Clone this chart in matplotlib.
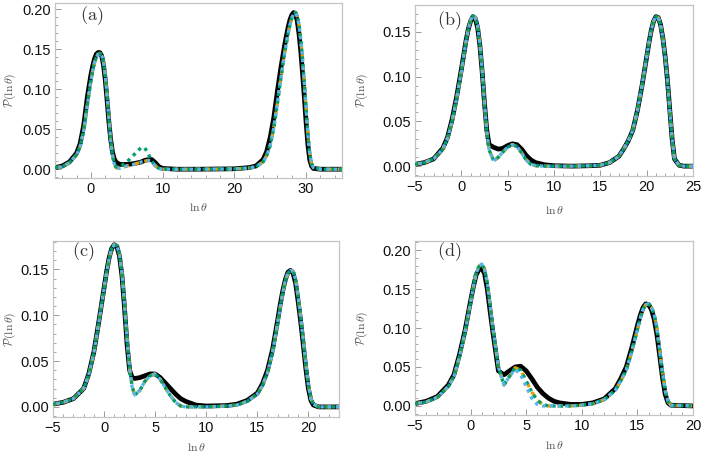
import matplotlib
matplotlib.use("Agg")
import matplotlib.pyplot as plt
from matplotlib.ticker import MultipleLocator, FormatStrFormatter, FuncFormatter

plt.rcParams['mathtext.fontset'] = 'cm'

# ---------------- Panel (a) ----------------
xa = [-5, -4, -3, -2, -1.5, -1, -0.5, -0.25, 0, 0.25,
      0.5, 0.75, 1, 1.25, 1.5, 1.75, 2, 2.25, 2.5, 2.75,
      3, 3.25, 3.5, 4, 5, 6, 7, 7.5, 8, 8.5,
      9, 9.5, 10, 12, 15, 20, 22, 23, 24, 24.5,
      25, 25.5, 26, 26.5, 27, 27.25, 27.5, 27.75, 28, 28.25,
      28.5, 28.75, 29, 29.25, 29.5, 29.75, 30, 30.25, 30.5, 30.75,
      31, 32, 35]
a_black = [0.002, 0.004, 0.009, 0.020, 0.032, 0.055, 0.090, 0.104, 0.118, 0.129,
           0.138, 0.144, 0.146, 0.146, 0.142, 0.131, 0.112, 0.087, 0.060, 0.038,
           0.022, 0.013, 0.009, 0.006, 0.006, 0.007, 0.009, 0.011, 0.012, 0.012,
           0.008, 0.003, 0.001, 0.0, 0.0, 0.0005, 0.002, 0.004, 0.012, 0.022,
           0.040, 0.065, 0.098, 0.128, 0.155, 0.167, 0.178, 0.187, 0.193, 0.196,
           0.195, 0.186, 0.170, 0.148, 0.120, 0.090, 0.058, 0.030, 0.012, 0.004,
           0.001, 0.0, 0.0]
a_orange = [0.002, 0.003, 0.008, 0.018, 0.028, 0.048, 0.080, 0.095, 0.110, 0.123,
            0.133, 0.140, 0.144, 0.145, 0.143, 0.135, 0.118, 0.093, 0.065, 0.038,
            0.018, 0.007, 0.002, 0.001, 0.004, 0.006, 0.009, 0.010, 0.011, 0.009,
            0.004, 0.001, 0.0, 0.0, 0.0, 0.0004, 0.0015, 0.003, 0.009, 0.017,
            0.030, 0.052, 0.083, 0.115, 0.145, 0.158, 0.170, 0.181, 0.189, 0.194,
            0.196, 0.192, 0.181, 0.163, 0.138, 0.108, 0.075, 0.043, 0.020, 0.007,
            0.002, 0.0, 0.0]
a_green = [0.002, 0.003, 0.008, 0.018, 0.028, 0.048, 0.080, 0.095, 0.110, 0.123,
           0.133, 0.140, 0.144, 0.145, 0.143, 0.135, 0.118, 0.093, 0.065, 0.038,
           0.018, 0.007, 0.003, 0.003, 0.009, 0.018, 0.027, 0.027, 0.019, 0.010,
           0.004, 0.001, 0.0, 0.0, 0.0, 0.0004, 0.0015, 0.003, 0.009, 0.017,
           0.030, 0.052, 0.083, 0.115, 0.145, 0.158, 0.170, 0.181, 0.189, 0.194,
           0.196, 0.192, 0.181, 0.163, 0.138, 0.108, 0.075, 0.043, 0.020, 0.007,
           0.002, 0.0, 0.0]
a_blue = list(a_orange)

# ---------------- Panel (b) ----------------
xb = [-5, -4, -3, -2, -1.5, -1, -0.5, 0, 0.25, 0.5,
      0.75, 1, 1.25, 1.5, 1.75, 2, 2.25, 2.5, 2.75, 3,
      3.5, 4, 4.5, 5, 5.5, 6, 6.5, 7, 7.5, 8,
      9, 10, 12, 14, 15, 16, 17, 17.5, 18, 18.5,
      19, 19.5, 20, 20.25, 20.5, 20.75, 21, 21.25, 21.5, 21.75,
      22, 22.25, 22.5, 22.75, 23, 23.5, 24, 25]
b_black = [0.002, 0.004, 0.008, 0.020, 0.032, 0.052, 0.078, 0.108, 0.124, 0.140,
           0.153, 0.162, 0.167, 0.165, 0.155, 0.135, 0.105, 0.070, 0.040, 0.024,
           0.021, 0.019, 0.020, 0.023, 0.025, 0.024, 0.019, 0.012, 0.007, 0.004,
           0.0015, 0.0005, 0.0, 0.0005, 0.001, 0.004, 0.011, 0.019, 0.028, 0.040,
           0.062, 0.090, 0.122, 0.138, 0.152, 0.162, 0.167, 0.166, 0.158, 0.143,
           0.122, 0.095, 0.062, 0.030, 0.008, 0.001, 0.0, 0.0]
b_orange = [0.002, 0.004, 0.008, 0.019, 0.031, 0.050, 0.076, 0.106, 0.123, 0.139,
            0.153, 0.163, 0.168, 0.166, 0.157, 0.137, 0.107, 0.070, 0.038, 0.018,
            0.006, 0.010, 0.016, 0.021, 0.024, 0.022, 0.015, 0.007, 0.002, 0.0005,
            0.0, 0.0, 0.0, 0.0005, 0.001, 0.004, 0.011, 0.019, 0.028, 0.040,
            0.062, 0.090, 0.122, 0.138, 0.152, 0.162, 0.167, 0.166, 0.158, 0.143,
            0.122, 0.095, 0.062, 0.030, 0.008, 0.001, 0.0, 0.0]
b_green = list(b_orange)
b_blue = list(b_orange)

# ---------------- Panel (c) ----------------
xc = [-5, -4, -3, -2, -1.5, -1, -0.5, 0, 0.25, 0.5,
      0.75, 1, 1.25, 1.5, 1.75, 2, 2.25, 2.5, 2.75, 3,
      3.5, 4, 4.5, 5, 5.5, 6, 6.5, 7, 7.5, 8,
      9, 10, 12, 13, 14, 15, 15.5, 16, 16.5, 17,
      17.25, 17.5, 17.75, 18, 18.25, 18.5, 18.75, 19, 19.25, 19.5,
      19.75, 20, 20.25, 20.5, 21, 23]
c_black = [0.003, 0.005, 0.009, 0.020, 0.036, 0.060, 0.094, 0.130, 0.148, 0.163,
           0.173, 0.177, 0.175, 0.165, 0.143, 0.108, 0.068, 0.040, 0.032, 0.031,
           0.032, 0.034, 0.036, 0.036, 0.032, 0.026, 0.020, 0.014, 0.009, 0.006,
           0.002, 0.001, 0.0015, 0.003, 0.007, 0.015, 0.025, 0.040, 0.063, 0.095,
           0.112, 0.127, 0.139, 0.147, 0.149, 0.146, 0.135, 0.115, 0.093, 0.068,
           0.042, 0.020, 0.007, 0.002, 0.0, 0.0]
c_orange = [0.003, 0.005, 0.009, 0.020, 0.035, 0.059, 0.093, 0.129, 0.147, 0.162,
            0.173, 0.177, 0.176, 0.167, 0.146, 0.112, 0.074, 0.042, 0.022, 0.013,
            0.018, 0.028, 0.034, 0.036, 0.030, 0.021, 0.012, 0.005, 0.001, 0.0,
            0.0, 0.0, 0.001, 0.002, 0.006, 0.014, 0.023, 0.037, 0.060, 0.092,
            0.109, 0.125, 0.138, 0.146, 0.149, 0.148, 0.139, 0.120, 0.098, 0.073,
            0.047, 0.024, 0.009, 0.003, 0.0, 0.0]
c_green = list(c_orange)
c_blue = list(c_orange)

# ---------------- Panel (d) ----------------
xd = [-5, -4, -3, -2, -1.5, -1, -0.5, 0, 0.25, 0.5,
      0.75, 1, 1.25, 1.5, 1.75, 2, 2.5, 3, 3.5, 4,
      4.5, 5, 5.5, 6, 6.5, 7, 7.5, 8, 9, 10,
      11, 12, 13, 13.5, 14, 14.5, 15, 15.25, 15.5, 15.75,
      16, 16.25, 16.5, 16.75, 17, 17.25, 17.5, 17.75, 18, 20]
d_black = [0.003, 0.006, 0.012, 0.027, 0.040, 0.066, 0.097, 0.135, 0.153, 0.168,
           0.175, 0.177, 0.170, 0.150, 0.122, 0.095, 0.045, 0.040, 0.045, 0.050,
           0.051, 0.045, 0.035, 0.024, 0.016, 0.010, 0.006, 0.004, 0.002, 0.002,
           0.004, 0.009, 0.022, 0.035, 0.050, 0.075, 0.103, 0.116, 0.126, 0.131,
           0.130, 0.124, 0.112, 0.092, 0.065, 0.037, 0.015, 0.004, 0.001, 0.0]
d_orange = [0.003, 0.005, 0.011, 0.025, 0.038, 0.063, 0.095, 0.133, 0.153, 0.170,
            0.179, 0.182, 0.176, 0.158, 0.130, 0.100, 0.050, 0.027, 0.038, 0.049,
            0.046, 0.032, 0.018, 0.007, 0.002, 0.0, 0.0, 0.0, 0.0, 0.001,
            0.003, 0.008, 0.020, 0.032, 0.046, 0.070, 0.098, 0.112, 0.124, 0.130,
            0.131, 0.127, 0.118, 0.100, 0.072, 0.043, 0.020, 0.006, 0.001, 0.0]
d_green = list(d_orange)
d_blue = [0.003, 0.005, 0.011, 0.025, 0.038, 0.063, 0.095, 0.133, 0.153, 0.170,
          0.179, 0.182, 0.176, 0.158, 0.130, 0.100, 0.050, 0.027, 0.038, 0.047,
          0.040, 0.025, 0.010, 0.002, 0.0, 0.0, 0.0, 0.0, 0.0, 0.001,
          0.003, 0.008, 0.020, 0.032, 0.046, 0.070, 0.098, 0.112, 0.124, 0.130,
          0.131, 0.127, 0.118, 0.100, 0.072, 0.043, 0.020, 0.006, 0.001, 0.0]

panels = [
    dict(x=xa, k=a_black, o=a_orange, g=a_green, b=a_blue, label='(a)',
         xlim=(-5, 35), ylim=(-0.011, 0.208), xmaj=10, xmin=2, ymaj=0.05,
         rect=[55, 3, 342, 178], ylab=-0.130, xlab=-0.131, tag=(0.087, 0.93)),
    dict(x=xb, k=b_black, o=b_orange, g=b_green, b=b_blue, label='(b)',
         xlim=(-5, 25), ylim=(-0.011, 0.180), xmaj=5, xmin=1, ymaj=0.05,
         rect=[415, 5, 693, 176], ylab=-0.162, xlab=-0.164, tag=(0.08, 0.91)),
    dict(x=xc, k=c_black, o=c_orange, g=c_green, b=c_blue, label='(c)',
         xlim=(-5, 23), ylim=(-0.011, 0.181), xmaj=5, xmin=1, ymaj=0.05,
         rect=[53, 241, 339, 417], ylab=-0.124, xlab=-0.138, tag=(0.065, 0.94)),
    dict(x=xd, k=d_black, o=d_orange, g=d_green, b=d_blue, label='(d)',
         xlim=(-5, 20), ylim=(-0.0116, 0.2116), xmaj=5, xmin=1, ymaj=0.05,
         rect=[415, 241, 693, 415], ylab=-0.162, xlab=-0.14, tag=(0.08, 0.937)),
]

W, H = 702, 454
fig = plt.figure(figsize=(W / 100, H / 100), dpi=100)
frame_col = '#c4c4c4'
tick_col = '#9a9a9a'

for p in panels:
    l, t, r, b = p['rect']
    ax = fig.add_axes([l / W, 1 - b / H, (r - l) / W, (b - t) / H])
    ax.plot(p['x'], p['k'], color='black', lw=3.4, solid_capstyle='butt', zorder=2)
    ax.plot(p['x'], p['o'], color='#E69F00', lw=2.4, linestyle=(0, (1.6, 1.6)), zorder=3)
    ax.plot(p['x'], p['g'], color='#009E73', lw=2.4, linestyle=(0, (1.0, 1.3)), zorder=4)
    ax.plot(p['x'], p['b'], color='#56B4E9', lw=2.4, linestyle=(1.1, (1.0, 1.3)), zorder=5)
    ax.set_xlim(*p['xlim'])
    ax.set_ylim(*p['ylim'])
    ax.xaxis.set_major_locator(MultipleLocator(p['xmaj']))
    ax.xaxis.set_minor_locator(MultipleLocator(p['xmin']))
    ax.yaxis.set_major_locator(MultipleLocator(p['ymaj']))
    ax.yaxis.set_minor_locator(MultipleLocator(0.01))
    ax.yaxis.set_major_formatter(FormatStrFormatter('%.2f'))
    ax.xaxis.set_major_formatter(FuncFormatter(
        lambda v, pos: ('\u2212%d' % round(-v)) if v < 0 else '%d' % round(v)))
    for s in ax.spines.values():
        s.set_color(frame_col)
        s.set_linewidth(0.9)
    ax.tick_params(which='both', direction='in', color=tick_col, top=False, right=False)
    ax.tick_params(which='major', length=4, width=0.7, labelsize=10.5, labelcolor='#111111', pad=3)
    ax.tick_params(which='minor', length=2, width=0.6)
    for lab in ax.get_xticklabels() + ax.get_yticklabels():
        lab.set_fontfamily('Liberation Sans')
    ax.set_ylabel(r'$\mathcal{P}(\ln\theta)$', fontsize=8.5, color='#555555')
    ax.yaxis.set_label_coords(p['ylab'], 0.5)
    ax.set_xlabel(r'$\ln\theta$', fontsize=8.5, color='#555555')
    ax.xaxis.set_label_coords(0.5, p['xlab'])
    ax.text(p['tag'][0], p['tag'][1], r'$\mathrm{' + p['label'] + '}$', transform=ax.transAxes,
            fontsize=13, color='#333333', va='center', ha='left')

fig.savefig('out.png', dpi=100)
